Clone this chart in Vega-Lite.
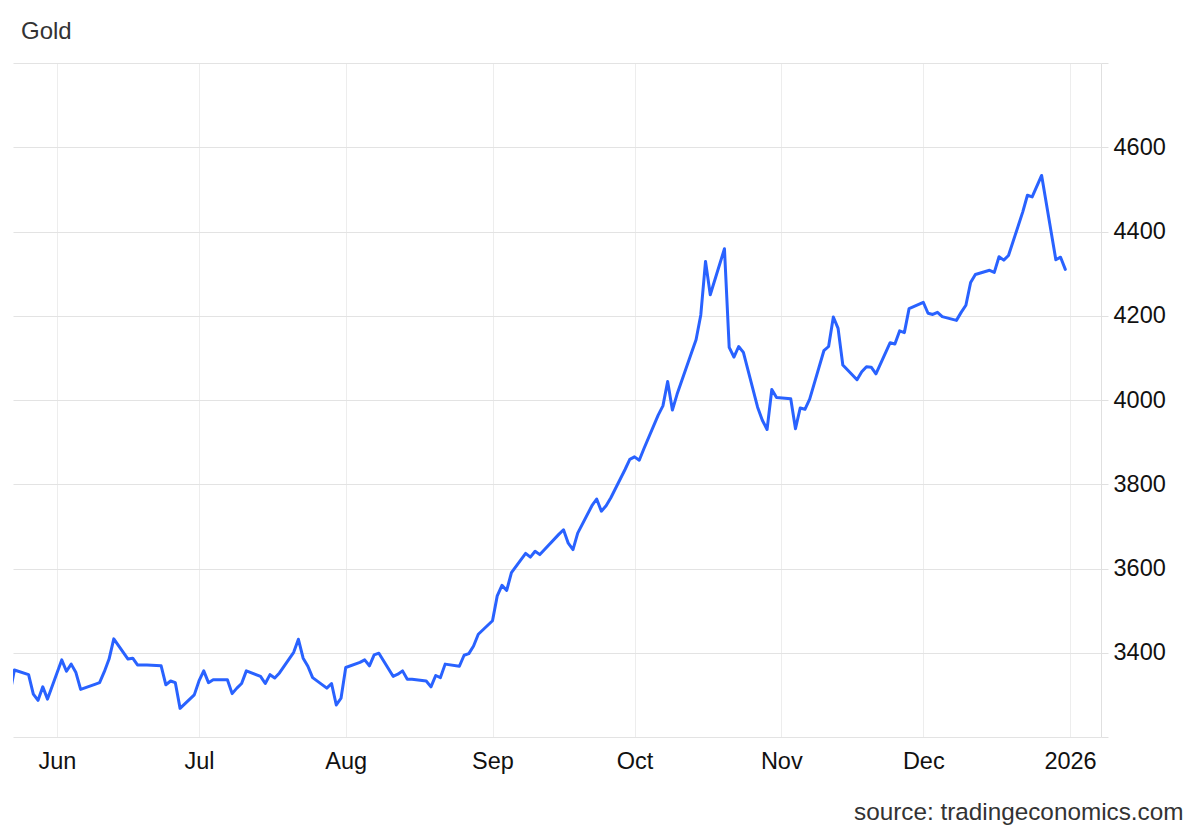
{
  "$schema": "https://vega.github.io/schema/vega-lite/v6.json",
  "width": 1088,
  "height": 674,
  "autosize": {"type": "none"},
  "padding": {"left": 13, "top": 63, "right": 99, "bottom": 95},
  "background": "white",
  "title": {"text": "Gold", "anchor": "start", "dx": 8, "offset": -12, "baseline": "alphabetic", "fontSize": 24, "fontWeight": "normal", "font": "Liberation Sans", "color": "#333333"},
  "data": {"values": [
    {"date": "2025-05-22", "price": 3300}, {"date": "2025-05-23", "price": 3359}, {"date": "2025-05-26", "price": 3348}, {"date": "2025-05-27", "price": 3302}, {"date": "2025-05-28", "price": 3287}, {"date": "2025-05-29", "price": 3319}, {"date": "2025-05-30", "price": 3290},
    {"date": "2025-06-02", "price": 3383}, {"date": "2025-06-03", "price": 3356}, {"date": "2025-06-04", "price": 3373}, {"date": "2025-06-05", "price": 3353}, {"date": "2025-06-06", "price": 3313},
    {"date": "2025-06-09", "price": 3325}, {"date": "2025-06-10", "price": 3329}, {"date": "2025-06-11", "price": 3355}, {"date": "2025-06-12", "price": 3385}, {"date": "2025-06-13", "price": 3433},
    {"date": "2025-06-16", "price": 3385}, {"date": "2025-06-17", "price": 3387}, {"date": "2025-06-18", "price": 3371}, {"date": "2025-06-19", "price": 3371}, {"date": "2025-06-20", "price": 3371},
    {"date": "2025-06-23", "price": 3369}, {"date": "2025-06-24", "price": 3324}, {"date": "2025-06-25", "price": 3333}, {"date": "2025-06-26", "price": 3329}, {"date": "2025-06-27", "price": 3268},
    {"date": "2025-06-30", "price": 3300}, {"date": "2025-07-01", "price": 3333}, {"date": "2025-07-02", "price": 3357}, {"date": "2025-07-03", "price": 3329}, {"date": "2025-07-04", "price": 3336},
    {"date": "2025-07-07", "price": 3336}, {"date": "2025-07-08", "price": 3303}, {"date": "2025-07-09", "price": 3316}, {"date": "2025-07-10", "price": 3327}, {"date": "2025-07-11", "price": 3357},
    {"date": "2025-07-14", "price": 3344}, {"date": "2025-07-15", "price": 3327}, {"date": "2025-07-16", "price": 3348}, {"date": "2025-07-17", "price": 3340}, {"date": "2025-07-18", "price": 3352},
    {"date": "2025-07-21", "price": 3401}, {"date": "2025-07-22", "price": 3432}, {"date": "2025-07-23", "price": 3387}, {"date": "2025-07-24", "price": 3368}, {"date": "2025-07-25", "price": 3341},
    {"date": "2025-07-28", "price": 3316}, {"date": "2025-07-29", "price": 3327}, {"date": "2025-07-30", "price": 3276}, {"date": "2025-07-31", "price": 3292}, {"date": "2025-08-01", "price": 3365},
    {"date": "2025-08-04", "price": 3377}, {"date": "2025-08-05", "price": 3383}, {"date": "2025-08-06", "price": 3369}, {"date": "2025-08-07", "price": 3395}, {"date": "2025-08-08", "price": 3399},
    {"date": "2025-08-11", "price": 3344}, {"date": "2025-08-12", "price": 3349}, {"date": "2025-08-13", "price": 3357}, {"date": "2025-08-14", "price": 3337}, {"date": "2025-08-15", "price": 3337},
    {"date": "2025-08-18", "price": 3333}, {"date": "2025-08-19", "price": 3319}, {"date": "2025-08-20", "price": 3346}, {"date": "2025-08-21", "price": 3341}, {"date": "2025-08-22", "price": 3373},
    {"date": "2025-08-25", "price": 3368}, {"date": "2025-08-26", "price": 3394}, {"date": "2025-08-27", "price": 3398}, {"date": "2025-08-28", "price": 3416}, {"date": "2025-08-29", "price": 3444},
    {"date": "2025-09-01", "price": 3476}, {"date": "2025-09-02", "price": 3535}, {"date": "2025-09-03", "price": 3560}, {"date": "2025-09-04", "price": 3548}, {"date": "2025-09-05", "price": 3590},
    {"date": "2025-09-08", "price": 3636}, {"date": "2025-09-09", "price": 3627}, {"date": "2025-09-10", "price": 3641}, {"date": "2025-09-11", "price": 3633}, {"date": "2025-09-12", "price": 3645},
    {"date": "2025-09-15", "price": 3681}, {"date": "2025-09-16", "price": 3692}, {"date": "2025-09-17", "price": 3660}, {"date": "2025-09-18", "price": 3645}, {"date": "2025-09-19", "price": 3684},
    {"date": "2025-09-22", "price": 3749}, {"date": "2025-09-23", "price": 3765}, {"date": "2025-09-24", "price": 3736}, {"date": "2025-09-25", "price": 3749}, {"date": "2025-09-26", "price": 3768},
    {"date": "2025-09-29", "price": 3835}, {"date": "2025-09-30", "price": 3859}, {"date": "2025-10-01", "price": 3865}, {"date": "2025-10-02", "price": 3857}, {"date": "2025-10-03", "price": 3885},
    {"date": "2025-10-06", "price": 3964}, {"date": "2025-10-07", "price": 3986}, {"date": "2025-10-08", "price": 4044}, {"date": "2025-10-09", "price": 3976}, {"date": "2025-10-10", "price": 4014},
    {"date": "2025-10-13", "price": 4111}, {"date": "2025-10-14", "price": 4143}, {"date": "2025-10-15", "price": 4202}, {"date": "2025-10-16", "price": 4329}, {"date": "2025-10-17", "price": 4250},
    {"date": "2025-10-20", "price": 4359}, {"date": "2025-10-21", "price": 4125}, {"date": "2025-10-22", "price": 4102}, {"date": "2025-10-23", "price": 4127}, {"date": "2025-10-24", "price": 4113},
    {"date": "2025-10-27", "price": 3983}, {"date": "2025-10-28", "price": 3952}, {"date": "2025-10-29", "price": 3930}, {"date": "2025-10-30", "price": 4025}, {"date": "2025-10-31", "price": 4006},
    {"date": "2025-11-03", "price": 4003}, {"date": "2025-11-04", "price": 3932}, {"date": "2025-11-05", "price": 3981}, {"date": "2025-11-06", "price": 3978}, {"date": "2025-11-07", "price": 4002},
    {"date": "2025-11-10", "price": 4117}, {"date": "2025-11-11", "price": 4127}, {"date": "2025-11-12", "price": 4197}, {"date": "2025-11-13", "price": 4170}, {"date": "2025-11-14", "price": 4083},
    {"date": "2025-11-17", "price": 4048}, {"date": "2025-11-18", "price": 4067}, {"date": "2025-11-19", "price": 4079}, {"date": "2025-11-20", "price": 4078}, {"date": "2025-11-21", "price": 4062},
    {"date": "2025-11-24", "price": 4136}, {"date": "2025-11-25", "price": 4133}, {"date": "2025-11-26", "price": 4164}, {"date": "2025-11-27", "price": 4160}, {"date": "2025-11-28", "price": 4217},
    {"date": "2025-12-01", "price": 4232}, {"date": "2025-12-02", "price": 4206}, {"date": "2025-12-03", "price": 4203}, {"date": "2025-12-04", "price": 4208}, {"date": "2025-12-05", "price": 4198},
    {"date": "2025-12-08", "price": 4189}, {"date": "2025-12-09", "price": 4208}, {"date": "2025-12-10", "price": 4225}, {"date": "2025-12-11", "price": 4279}, {"date": "2025-12-12", "price": 4298},
    {"date": "2025-12-15", "price": 4308}, {"date": "2025-12-16", "price": 4303}, {"date": "2025-12-17", "price": 4340}, {"date": "2025-12-18", "price": 4332}, {"date": "2025-12-19", "price": 4343},
    {"date": "2025-12-22", "price": 4446}, {"date": "2025-12-23", "price": 4486}, {"date": "2025-12-24", "price": 4482}, {"date": "2025-12-26", "price": 4533},
    {"date": "2025-12-29", "price": 4333}, {"date": "2025-12-30", "price": 4339}, {"date": "2025-12-31", "price": 4310}
  ]},
  "mark": {"type": "line", "color": "#2962ff", "strokeWidth": 3, "clip": true, "strokeJoin": "round", "strokeCap": "round"},
  "encoding": {
    "x": {
      "field": "date",
      "type": "temporal",
      "scale": {"type": "utc", "domain": [
        {"year": 2025, "month": 5, "date": 22, "hours": 17, "utc": true},
        {"year": 2026, "month": 1, "date": 7, "hours": 13, "utc": true}
      ]},
      "axis": {
        "values": [
          {"year": 2025, "month": 6, "date": 1, "utc": true},
          {"year": 2025, "month": 7, "date": 1, "utc": true},
          {"year": 2025, "month": 8, "date": 1, "utc": true},
          {"year": 2025, "month": 9, "date": 1, "utc": true},
          {"year": 2025, "month": 10, "date": 1, "utc": true},
          {"year": 2025, "month": 11, "date": 1, "utc": true},
          {"year": 2025, "month": 12, "date": 1, "utc": true},
          {"year": 2026, "month": 1, "date": 1, "utc": true}
        ],
        "labelExpr": "utcFormat(datum.value, '%m') == '01' ? utcFormat(datum.value, '%Y') : utcFormat(datum.value, '%b')",
        "grid": true,
        "gridColor": "#ededed",
        "gridWidth": 1,
        "domain": false,
        "ticks": false,
        "tickSize": 0,
        "labelPadding": 31,
        "labelBaseline": "alphabetic",
        "labelAlign": "center",
        "labelFont": "Liberation Sans",
        "labelFontSize": 23.5,
        "labelColor": "#111111",
        "labelFlush": false,
        "labelOverlap": false,
        "title": "source: tradingeconomics.com",
        "titleX": 1170,
        "titleY": 82,
        "titleAlign": "right",
        "titleBaseline": "alphabetic",
        "titleFont": "Liberation Sans",
        "titleFontSize": 24.3,
        "titleFontWeight": "normal",
        "titleColor": "#333333"
      }
    },
    "y": {
      "field": "price",
      "type": "quantitative",
      "scale": {"domain": [3200, 4800], "nice": false, "zero": false},
      "axis": {
        "orient": "right",
        "values": [3200, 3400, 3600, 3800, 4000, 4200, 4400, 4600, 4800],
        "format": "d",
        "labelExpr": "datum.value == 3200 || datum.value == 4800 ? '' : datum.label",
        "grid": true,
        "gridColor": "#e3e3e3",
        "gridWidth": 1,
        "domain": true,
        "domainColor": "#e0e0e0",
        "domainWidth": 1,
        "ticks": true,
        "tickSize": 7,
        "tickColor": "#e0e0e0",
        "tickWidth": 1,
        "labelPadding": 5,
        "labelBaseline": "middle",
        "labelFont": "Liberation Sans",
        "labelFontSize": 23.5,
        "labelColor": "#111111",
        "labelFlush": false,
        "labelOverlap": false,
        "title": null
      }
    }
  },
  "config": {"view": {"stroke": null}}
}
